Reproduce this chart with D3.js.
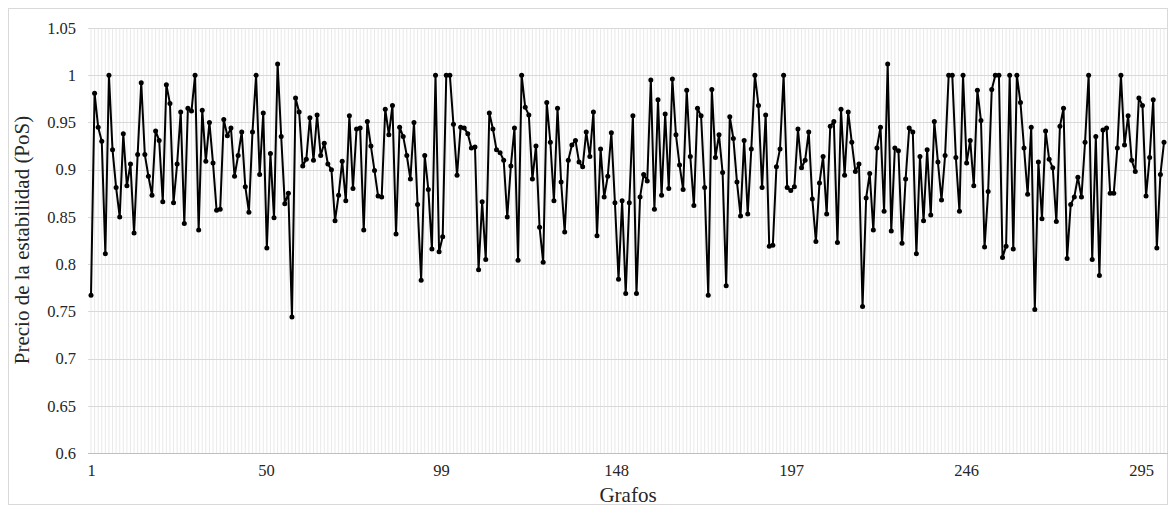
<!DOCTYPE html>
<html><head><meta charset="utf-8">
<script src="https://cdn.jsdelivr.net/npm/d3@7"></script>
<style>
html,body{margin:0;padding:0;background:#fff;}
svg{display:block;}
</style></head>
<body>
<svg id="chart" width="1176" height="513"></svg>
<script>
const yTicks = [0.6,0.65,0.7,0.75,0.8,0.85,0.9,0.95,1,1.05];
const xTickLabels = [1,50,99,148,197,246,295];
const pos = [
0.767,0.981,0.945,0.930,0.811,1.000,0.921,0.881,0.850,0.938,
0.883,0.906,0.833,0.916,0.992,0.916,0.893,0.873,0.941,0.931,
0.866,0.990,0.970,0.865,0.906,0.961,0.843,0.965,0.962,1.000,
0.836,0.963,0.909,0.950,0.907,0.857,0.858,0.953,0.936,0.944,
0.893,0.915,0.940,0.882,0.855,0.940,1.000,0.895,0.960,0.817,
0.917,0.849,1.012,0.935,0.864,0.875,0.744,0.976,0.961,0.904,
0.911,0.955,0.910,0.958,0.915,0.928,0.906,0.900,0.846,0.873,
0.909,0.867,0.957,0.880,0.943,0.944,0.836,0.951,0.925,0.899,
0.872,0.871,0.964,0.937,0.968,0.832,0.945,0.935,0.915,0.890,
0.950,0.863,0.783,0.915,0.879,0.816,1.000,0.813,0.829,1.000,
1.000,0.948,0.894,0.945,0.944,0.938,0.923,0.924,0.794,0.866,
0.805,0.960,0.943,0.921,0.918,0.910,0.850,0.904,0.944,0.804,
1.000,0.966,0.958,0.890,0.925,0.839,0.802,0.971,0.929,0.867,
0.965,0.887,0.834,0.910,0.926,0.931,0.908,0.903,0.940,0.914,
0.961,0.830,0.922,0.871,0.893,0.939,0.865,0.784,0.867,0.769,
0.865,0.957,0.769,0.871,0.895,0.888,0.995,0.858,0.974,0.873,
0.959,0.880,0.996,0.937,0.905,0.879,0.984,0.914,0.862,0.965,
0.957,0.881,0.767,0.985,0.913,0.937,0.897,0.777,0.956,0.933,
0.887,0.851,0.931,0.853,0.922,1.000,0.968,0.881,0.958,0.819,
0.820,0.903,0.922,1.000,0.881,0.878,0.882,0.943,0.902,0.910,
0.940,0.869,0.824,0.886,0.914,0.853,0.946,0.951,0.823,0.964,
0.894,0.961,0.929,0.898,0.906,0.755,0.870,0.896,0.836,0.923,
0.945,0.856,1.012,0.835,0.923,0.920,0.822,0.890,0.944,0.940,
0.811,0.914,0.846,0.921,0.852,0.951,0.908,0.868,0.915,1.000,
1.000,0.913,0.856,1.000,0.907,0.931,0.883,0.984,0.952,0.818,
0.877,0.985,1.000,1.000,0.807,0.819,1.000,0.816,1.000,0.971,
0.923,0.874,0.945,0.752,0.908,0.848,0.941,0.911,0.902,0.845,
0.946,0.965,0.806,0.863,0.871,0.892,0.871,0.929,1.000,0.805,
0.935,0.788,0.942,0.944,0.875,0.875,0.923,1.000,0.926,0.957,
0.910,0.898,0.976,0.968,0.872,0.913,0.974,0.817,0.895,0.929
];
const grafos = pos.map((d,i)=>i+1);

const svg = d3.select("#chart");
const W = 1176, H = 513;
const plot = {left: 88, right: 1168, top: 28, bottom: 453};

// outer border
svg.append("rect").attr("x",8.5).attr("y",8.5).attr("width",W-17).attr("height",H-17)
  .attr("fill","#fff").attr("stroke","#d9d9d9").attr("stroke-width",1);

const x = d3.scaleLinear().domain([1, grafos.length]).range([91, 1164]);
// category label scale (labels sit slightly left of the point positions in the reference)
const xLab = d3.scaleLinear().domain([1, grafos.length]).range([91, 1159]);
const y = d3.scaleLinear().domain([0.6, 1.05]).range([plot.bottom, plot.top]);

// vertical gridlines, one per category
svg.append("g").selectAll("line").data(grafos).join("line")
  .attr("x1",d=>x(d)).attr("x2",d=>x(d))
  .attr("y1",plot.top).attr("y2",plot.bottom)
  .attr("stroke","#e3e3e3").attr("stroke-width",0.8);

// horizontal gridlines
svg.append("g").selectAll("line").data(yTicks).join("line")
  .attr("x1",plot.left).attr("x2",plot.right)
  .attr("y1",d=>Math.round(y(d))+0.5).attr("y2",d=>Math.round(y(d))+0.5)
  .attr("stroke","#d9d9d9").attr("stroke-width",1);

// y axis labels
const yAxis = d3.axisLeft(y).tickValues(yTicks).tickSize(0).tickPadding(12)
  .tickFormat(d=>d3.format("")(+d.toFixed(2)));
const gy = svg.append("g").attr("transform",`translate(${plot.left},0)`).call(yAxis);
gy.select(".domain").remove();
gy.selectAll("text").attr("font-family","Liberation Serif").attr("font-size",16.5).attr("fill","#262626");

// x axis
const xAxis = d3.axisBottom(xLab).tickValues(xTickLabels).tickSize(0).tickPadding(11).tickFormat(d3.format("d"));
const gx = svg.append("g").attr("transform",`translate(0,${plot.bottom})`).call(xAxis);
gx.select(".domain").remove();
gx.selectAll("text").attr("font-family","Liberation Serif").attr("font-size",16.5).attr("fill","#262626");
svg.append("line").attr("x1",plot.left).attr("x2",plot.right)
  .attr("y1",plot.bottom+0.5).attr("y2",plot.bottom+0.5)
  .attr("stroke","#bfbfbf").attr("stroke-width",1);

// line
const line = d3.line().x((d,i)=>x(grafos[i])).y(d=>y(d));
svg.append("path").datum(pos).attr("d",line)
  .attr("fill","none").attr("stroke","#000").attr("stroke-width",2).attr("stroke-linejoin","round");
svg.append("g").selectAll("circle").data(pos).join("circle")
  .attr("cx",(d,i)=>x(grafos[i])).attr("cy",d=>y(d)).attr("r",2.5).attr("fill","#000");

// axis titles
svg.append("text").attr("x",628).attr("y",502).attr("text-anchor","middle")
  .attr("font-family","Liberation Serif").attr("font-size",21).attr("fill","#262626").text("Grafos");
svg.append("text").attr("transform","translate(29,240) rotate(-90)").attr("text-anchor","middle")
  .attr("font-family","Liberation Serif").attr("font-size",21).attr("fill","#262626").text("Precio de la estabilidad (PoS)");
</script>
</body></html>
